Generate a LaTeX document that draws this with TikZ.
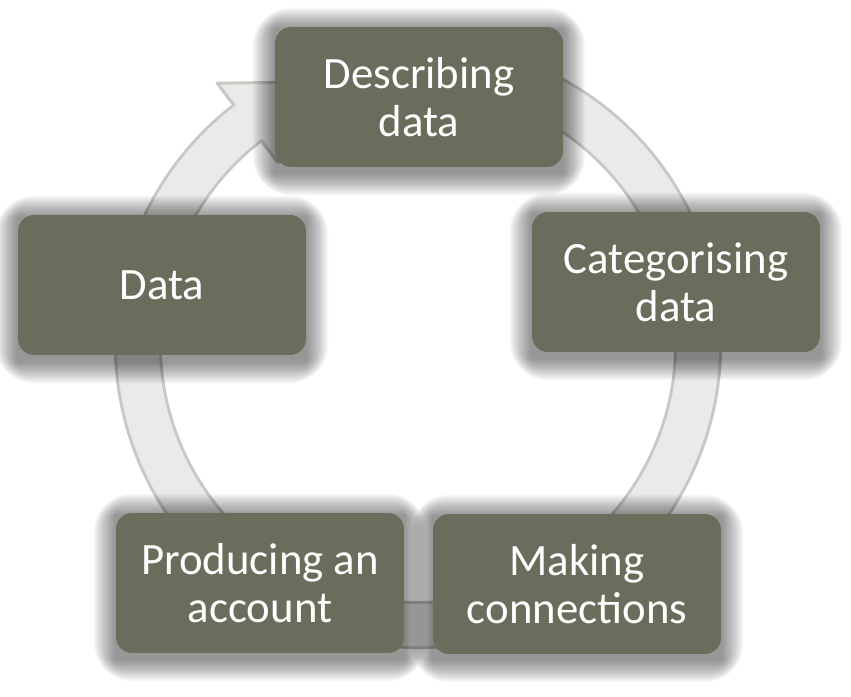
\documentclass[tikz,border=0pt]{standalone}
\usepackage{fontspec}
\setmainfont{Carlito}
\usetikzlibrary{calc}
\pgfdeclarelayer{background}
\pgfsetlayers{background,main}
\definecolor{boxgray}{RGB}{108,108,92}
\definecolor{ringfill}{RGB}{234,234,232}
\definecolor{ringline}{RGB}{200,200,196}
\tikzset{
    stage/.style={fill=boxgray, rounded corners=0.32cm, minimum width=5.76cm,
        minimum height=2.8cm, align=center, text=white,
        font=\fontsize{25.5}{27.5}\selectfont}
}

\begin{document}
\begin{tikzpicture}[x=0.02cm, y=0.02cm]
            \useasboundingbox (0,0) rectangle (851,696);
            \coordinate (c) at (418,351);
            \node[stage] (desc) at (419,599) {Describing\\data};
            \node[stage] (categ) at (676,414) {Categorising\\data};
            \node[stage] (conn) at (577,112) {Making\\connections};
            \node[stage] (account) at (260,113) {Producing an\\account};
            \node[stage] (data) at (162,411) {Data};
            \begin{pgfonlayer}{background}
                \draw[ringline, line width=0.96cm] (c) ++(70:280) arc[start angle=70, end angle=-232.5, radius=280];
                \filldraw[fill=ringfill, draw=ringline, line width=0.06cm, line join=round]
                    ($(c)+(127.5:330)$) -- ($(c)+(110:280)$) -- ($(c)+(127.5:230)$) -- cycle;
                \draw[ringfill, line width=0.84cm] (c) ++(70:280) arc[start angle=70, end angle=-235, radius=280];
                % soft shadow round the boxes
                \foreach \s in {desc,categ,conn,account,data}
                    \foreach \k [evaluate=\k as \rr using 9+\k*0.57] in {1,...,22}
                        \fill[black, opacity=.022, rounded corners=\rr pt]
                            ($(\s.south west)+(-\k,-\k-6)$) rectangle ($(\s.north east)+(\k,\k-3)$);
            \end{pgfonlayer}
        \end{tikzpicture}
\end{document}
